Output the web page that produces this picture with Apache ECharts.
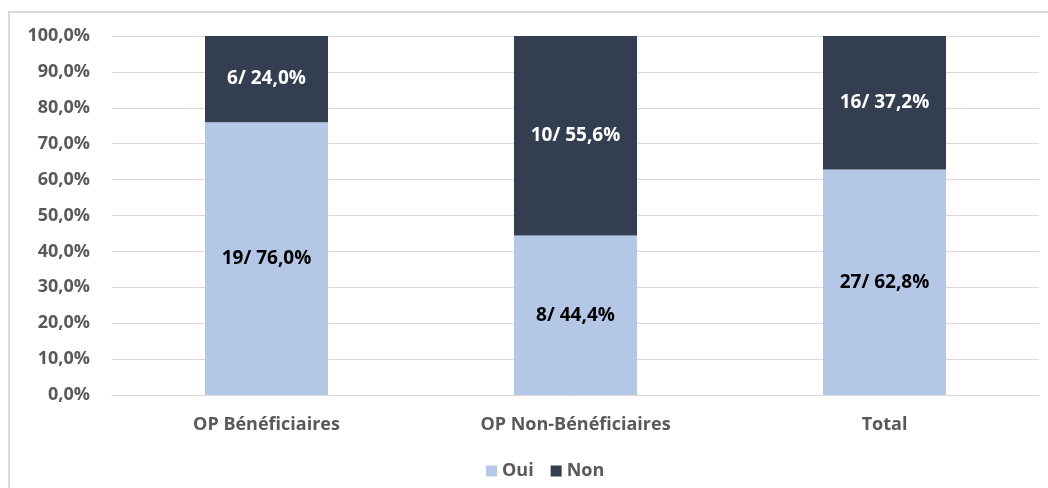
<!DOCTYPE html>
<html>
<head>
<meta charset="utf-8">
<script src="https://cdn.jsdelivr.net/npm/echarts@6/dist/echarts.min.js"></script>
<style>
  body { margin: 0; background: #fff; }
  #frame { position: absolute; left: 8px; top: 11px; width: 1060px; height: 500px; border: 2px solid #d9d9d9; }
  #chart { position: absolute; left: 0; top: 0; width: 1048px; height: 488px; }
</style>
</head>
<body>
<div id="frame"></div>
<div id="chart"></div>
<script>
// Répartition Oui / Non par groupe d'OP (effectif et pourcentage)
const categories = ['OP Bénéficiaires', 'OP Non-Bénéficiaires', 'Total'];
const ouiCount = [19, 8, 27];
const nonCount = [6, 10, 16];
const ouiPct = [76.0, 44.4, 62.8];
const nonPct = [24.0, 55.6, 37.2];

const FONT = '"Open Sans", "DejaVu Sans", sans-serif';
const fmt = v => v.toFixed(1).replace('.', ',') + '%';

const chart = echarts.init(document.getElementById('chart'));

chart.setOption({
  animation: false,
  textStyle: { fontFamily: FONT },
  color: ['#b4c7e7', '#333f50'],
  grid: { left: 112, right: 9, top: 36, bottom: 93 },
  legend: {
    top: 457,
    left: 481,
    itemWidth: 11,
    itemHeight: 11,
    itemGap: 17,
    icon: 'rect',
    textStyle: { fontFamily: FONT, fontSize: 18, fontWeight: 'bold', color: '#595959' },
    data: ['Oui', 'Non'],
  },
  xAxis: {
    type: 'category',
    data: categories,
    axisLine: { lineStyle: { color: '#d9d9d9' } },
    axisTick: { show: false },
    axisLabel: { color: '#595959', fontSize: 18, fontWeight: 'bold', margin: 21 },
  },
  yAxis: {
    type: 'value',
    min: 0,
    max: 100,
    interval: 10,
    axisLine: { show: false },
    axisTick: { show: false },
    axisLabel: { color: '#595959', fontSize: 18, fontWeight: 'bold', margin: 22, formatter: v => fmt(v) },
    splitLine: { lineStyle: { color: '#d9d9d9' } },
  },
  series: [
    {
      name: 'Oui',
      type: 'bar',
      stack: 'total',
      barWidth: 123,
      data: ouiPct,
      label: {
        show: true,
        position: 'inside',
        color: '#000',
        fontSize: 19,
        fontWeight: 'bold',
        formatter: p => ouiCount[p.dataIndex] + '/ ' + fmt(p.value),
      },
    },
    {
      name: 'Non',
      type: 'bar',
      stack: 'total',
      barWidth: 123,
      data: nonPct,
      label: {
        show: true,
        position: 'inside',
        color: '#fff',
        fontSize: 19,
        fontWeight: 'bold',
        formatter: p => nonCount[p.dataIndex] + '/ ' + fmt(p.value),
      },
    },
  ],
});
</script>
</body>
</html>
